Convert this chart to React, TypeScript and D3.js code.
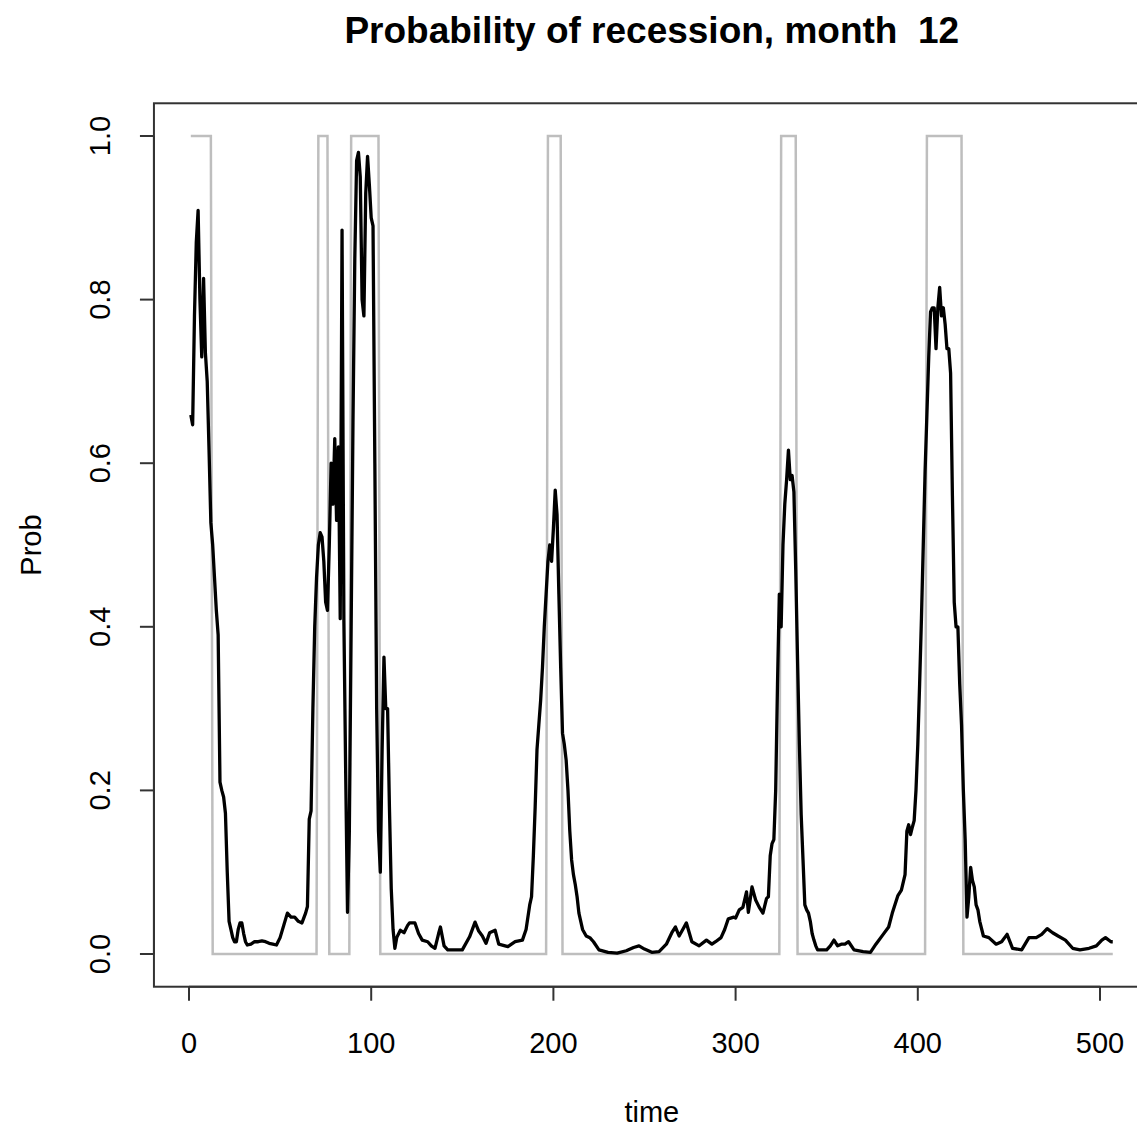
import React from "react";
import * as d3 from "d3";

const W = 1137;
const H = 1130;

const titleText = "Probability of recession, month  12";
const xLabel = "time";
const yLabel = "Prob";
const xTicks = [0, 100, 200, 300, 400, 500];
const yTicks = [0, 0.2, 0.4, 0.6, 0.8, 1.0];

// recession periods (indicator = 1 inclusive)
const recStart = [1, 71, 89, 197, 325, 405];
const recEnd = [12, 76, 104, 204, 333, 424];
const nMonths = 507;

// probability series (month, value)
const probT = [
  1, 2, 3, 4, 5, 6, 7, 8, 9, 10, 11, 12, 13, 14, 15, 16, 17, 18, 19, 20,
  21, 22, 23, 24, 25, 26, 27, 28, 29, 30, 31, 32, 34, 36, 38, 40, 42, 44, 46, 48,
  50, 52, 54, 56, 58, 60, 62, 64, 65, 66, 67, 68, 69, 70, 71, 72, 73, 74, 75, 76,
  77, 78, 79, 80, 81, 82, 83, 84, 85, 86, 87, 88, 89, 90, 91, 92, 93, 94, 95, 96,
  97, 98, 99, 100, 101, 102, 103, 104, 105, 106, 107, 108, 109, 110, 111, 112, 113, 114, 116, 118,
  120, 121, 124, 126, 128, 131, 133, 135, 137, 138, 140, 142, 150, 154, 157, 159, 161, 163, 165, 168,
  170, 175, 179, 183, 185, 187, 188, 189, 190, 191, 192, 193, 194, 195, 196, 197, 198, 199, 200, 201,
  202, 203, 204, 205, 206, 207, 208, 209, 210, 211, 212, 213, 214, 216, 218, 220, 222, 225, 230, 235,
  240, 244, 247, 250, 254, 258, 262, 265, 267, 269, 271, 273, 276, 280, 284, 287, 289, 292, 294, 296,
  299, 300, 302, 304, 306, 307, 309, 311, 313, 315, 317, 318, 319, 320, 321, 322, 323, 324, 325, 326,
  327, 328, 329, 330, 331, 332, 333, 334, 335, 336, 337, 338, 339, 340, 341, 342, 343, 344, 345, 350,
  352, 354, 356, 358, 360, 362, 365, 370, 374, 377, 381, 384, 386, 389, 391, 393, 394, 395, 396, 397,
  398, 399, 400, 401, 402, 403, 404, 405, 406, 407, 408, 409, 410, 411, 412, 413, 414, 415, 416, 417,
  418, 419, 420, 421, 422, 423, 424, 425, 426, 427, 428, 429, 430, 431, 432, 433, 434, 436, 439, 443,
  446, 449, 452, 457, 461, 465, 468, 471, 474, 477, 481, 485, 489, 494, 498, 501, 503, 506, 507,
];
const probV = [
  0.659, 0.647, 0.78, 0.87, 0.909, 0.8, 0.73, 0.826, 0.735, 0.7, 0.616, 0.527, 0.5, 0.46, 0.42, 0.39, 0.21, 0.2, 0.192, 0.172,
  0.1, 0.04, 0.03, 0.02, 0.015, 0.015, 0.03, 0.038, 0.038, 0.025, 0.015, 0.011, 0.012, 0.015, 0.015, 0.016, 0.015, 0.013, 0.012, 0.011,
  0.02, 0.035, 0.05, 0.045, 0.045, 0.04, 0.038, 0.05, 0.058, 0.165, 0.175, 0.3, 0.4, 0.46, 0.5, 0.515, 0.51, 0.48, 0.43, 0.42,
  0.5, 0.6, 0.55, 0.63, 0.53, 0.62, 0.41, 0.885, 0.41, 0.22, 0.051, 0.15, 0.4, 0.65, 0.85, 0.97, 0.98, 0.95, 0.8, 0.78,
  0.93, 0.975, 0.94, 0.9, 0.89, 0.6, 0.3, 0.15, 0.1, 0.25, 0.363, 0.3, 0.3, 0.18, 0.08, 0.03, 0.007, 0.02, 0.029, 0.026,
  0.035, 0.038, 0.038, 0.025, 0.017, 0.015, 0.01, 0.007, 0.025, 0.033, 0.01, 0.005, 0.005, 0.021, 0.039, 0.028, 0.022, 0.013, 0.026, 0.029,
  0.012, 0.009, 0.015, 0.017, 0.03, 0.06, 0.07, 0.12, 0.18, 0.25, 0.28, 0.31, 0.35, 0.4, 0.44, 0.48, 0.5, 0.48, 0.52, 0.567,
  0.537, 0.44, 0.35, 0.27, 0.256, 0.237, 0.2, 0.15, 0.115, 0.097, 0.085, 0.07, 0.05, 0.03, 0.022, 0.02, 0.015, 0.005, 0.002, 0.001,
  0.004, 0.008, 0.01, 0.006, 0.002, 0.003, 0.012, 0.026, 0.033, 0.022, 0.03, 0.038, 0.015, 0.01, 0.017, 0.012, 0.015, 0.02, 0.03, 0.043,
  0.045, 0.044, 0.054, 0.057, 0.076, 0.051, 0.082, 0.066, 0.057, 0.05, 0.068, 0.07, 0.12, 0.135, 0.14, 0.2, 0.33, 0.44, 0.4, 0.5,
  0.55, 0.58, 0.616, 0.58, 0.585, 0.565, 0.47, 0.36, 0.256, 0.17, 0.115, 0.06, 0.054, 0.05, 0.04, 0.025, 0.017, 0.01, 0.005, 0.005,
  0.01, 0.017, 0.01, 0.012, 0.012, 0.015, 0.005, 0.003, 0.002, 0.012, 0.024, 0.033, 0.05, 0.071, 0.078, 0.097, 0.15, 0.158, 0.146, 0.155,
  0.163, 0.2, 0.256, 0.33, 0.41, 0.5, 0.59, 0.66, 0.73, 0.785, 0.79, 0.79, 0.74, 0.79, 0.815, 0.78, 0.79, 0.77, 0.74, 0.74,
  0.71, 0.56, 0.43, 0.4, 0.4, 0.33, 0.28, 0.2, 0.14, 0.045, 0.07, 0.106, 0.09, 0.082, 0.06, 0.054, 0.04, 0.022, 0.02, 0.012,
  0.015, 0.024, 0.007, 0.005, 0.02, 0.02, 0.024, 0.031, 0.026, 0.022, 0.017, 0.007, 0.005, 0.007, 0.01, 0.017, 0.02, 0.015, 0.015,
];

const FONT = "'Liberation Sans', Arial, Helvetica, sans-serif";

export default function App() {
  const x = d3.scaleLinear().domain([0, 500]).range([189, 1100]);
  const y = d3.scaleLinear().domain([0, 1]).range([954, 136]);

  const xr = 507 - 1;
  const xMin = 1 - 0.04 * xr;
  const xMax = 507 + 0.04 * xr;
  const yMin = -0.04;
  const yMax = 1.04;

  const bx0 = x(xMin);
  const bx1 = x(xMax);
  const by0 = y(yMax);
  const by1 = y(yMin);

  const months = d3.range(1, nMonths + 1);
  const indicator = months.map((m) => {
    let v = 0;
    recStart.forEach((s, i) => {
      if (m >= s && m <= recEnd[i]) v = 1;
    });
    return { t: m, v };
  });

  const probData = probT.map((t, i) => ({ t, v: probV[i] }));

  const line = d3
    .line<{ t: number; v: number }>()
    .x((d) => x(d.t))
    .y((d) => y(d.v));

  return (
    <svg
      width={W}
      height={H}
      style={{ position: "absolute", left: 0, top: 0, background: "#fff" }}
      fontFamily={FONT}
    >
      <rect x={0} y={0} width={W} height={H} fill="#fff" />
      <text
        x={(bx0 + bx1) / 2}
        y={43}
        textAnchor="middle"
        fontSize={37}
        fontWeight="bold"
        fill="#000"
        style={{ whiteSpace: "pre" }}
        xmlSpace="preserve"
      >
        {titleText}
      </text>

      <path d={line(indicator) || ""} fill="none" stroke="#bebebe" strokeWidth={2.5} />
      <path
        d={line(probData) || ""}
        fill="none"
        stroke="#000"
        strokeWidth={3.3}
        strokeLinejoin="round"
      />

      <rect
        x={bx0}
        y={by0}
        width={bx1 - bx0}
        height={by1 - by0}
        fill="none"
        stroke="#333"
        strokeWidth={2}
      />

      {/* x axis */}
      <line x1={x(0)} x2={x(500)} y1={by1} y2={by1} stroke="#333" strokeWidth={2} />
      {xTicks.map((t) => (
        <g key={"xt" + t}>
          <line x1={x(t)} x2={x(t)} y1={by1} y2={by1 + 14} stroke="#333" strokeWidth={2} />
          <text x={x(t)} y={1053} textAnchor="middle" fontSize={29} fill="#000">
            {String(t)}
          </text>
        </g>
      ))}

      {/* y axis */}
      <line x1={bx0} x2={bx0} y1={y(0)} y2={y(1)} stroke="#333" strokeWidth={2} />
      {yTicks.map((t) => (
        <g key={"yt" + t}>
          <line x1={bx0 - 14} x2={bx0} y1={y(t)} y2={y(t)} stroke="#333" strokeWidth={2} />
          <text
            transform={`translate(110,${y(t)}) rotate(-90)`}
            textAnchor="middle"
            fontSize={29}
            fill="#000"
          >
            {t.toFixed(1)}
          </text>
        </g>
      ))}

      <text x={(bx0 + bx1) / 2} y={1122} textAnchor="middle" fontSize={29} fill="#000">
        {xLabel}
      </text>
      <text
        transform={`translate(41,${(by0 + by1) / 2}) rotate(-90)`}
        textAnchor="middle"
        fontSize={29}
        fill="#000"
      >
        {yLabel}
      </text>
    </svg>
  );
}
